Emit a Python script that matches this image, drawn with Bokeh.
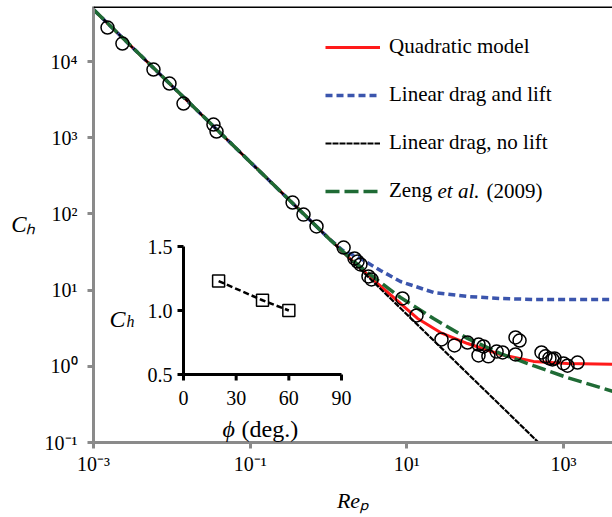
from bokeh.plotting import figure
from bokeh.models import (Range1d, LinearScale, FixedTicker, Label, Legend,
                          LegendItem, Span)
from bokeh.embed import file_html
from bokeh.resources import INLINE

# ---------------- data ----------------
re_exp = [1.51e-3, 2.34e-3, 5.83e-3, 9.34e-3, 1.41e-2, 3.40e-2, 3.72e-2, 0.348, 0.480,
          0.703, 1.56, 2.15, 2.35, 2.56, 3.24, 3.54, 8.8, 13.3, 27.7, 40.6, 59.6, 82.3,
          95.3, 82.3, 110, 140, 167, 244, 244, 275, 524, 589, 662, 724, 768, 1000,
          1125, 1510]
ch_exp = [27900, 17200, 7850, 5140, 2810, 1490, 1205, 141, 98, 68.4, 36.2, 26.0,
          23.7, 21.7, 15.1, 13.8, 7.76, 4.65, 2.25, 1.88, 2.05, 1.93, 1.82, 1.39, 1.35,
          1.56, 1.52, 1.43, 2.39, 2.18, 1.52, 1.35, 1.27, 1.23, 1.27, 1.09, 1.02, 1.12]

re_quad = [1e-3, 0.1, 1, 2, 4, 8.3, 13.7, 26.9, 59.6, 157, 414, 1125, 4230]
ch_quad = [48000, 480, 48.3, 24.4, 12.8, 6.67, 4.24, 2.77, 1.99, 1.43, 1.16, 1.09, 1.06]

re_lin = [1e-3, 0.1, 1, 1.5, 2.56, 4.61, 8.3, 21.9, 59.6, 157, 414, 4230]
ch_lin = [48000, 480, 48, 33.5, 26.0, 18.1, 12.97, 9.31, 8.25, 7.76, 7.53, 7.5]

re_nolift = [1e-3, 1, 480]
ch_nolift = [48000, 48, 0.1]

re_zeng = [1e-3, 0.1, 1, 2, 3.15, 8.3, 21.9, 59.6, 157, 414, 1125, 4230]
ch_zeng = [48000, 480, 48, 25, 17, 8.0, 4.24, 2.32, 1.47, 1.02, 0.71, 0.47]

phi_inset = [20, 45, 60]
ch_inset = [1.23, 1.08, 1.00]

x_ticks = [1e-3, 1e-1, 1e1, 1e3]
x_tick_labels = ["10⁻³", "10⁻¹", "10¹", "10³"]
y_ticks = [1e-1, 1e0, 1e1, 1e2, 1e3, 1e4]
y_tick_labels = ["10⁻¹", "10⁰", "10¹", "10²", "10³", "10⁴"]

inset_x_ticks = [0, 30, 60, 90]
inset_x_labels = ["0", "30", "60", "90"]
inset_y_ticks = [0.5, 1.0, 1.5]
inset_y_labels = ["0.5", "1.0", "1.5"]

legend_labels = ["Quadratic model", "Linear drag and lift", "Linear drag, no lift", "Zeng"]

# ---------------- layout (page pixels) ----------------
W, H = 612, 517
FL, FR, FT, FB = 93, 612, 6, 442           # frame edges on the page
PX_DEC_X, PX_DEC_Y = 78.33, 76.2           # pixels per decade
XL0 = -3.0
XL1 = XL0 + (FR - FL) / PX_DEC_X
YL0 = -1.0
YL1 = YL0 + (FB - FT) / PX_DEC_Y

# inset: phi 0 at x=183, 90 at x=341 ; C 0.5 at y=374, 1.5 at y=246
IPX0, IPX90 = 183, 341
IPY05, IPY15 = 374, 246
phi_per_px = 90.0 / (IPX90 - IPX0)
c_per_px = 1.0 / (IPY05 - IPY15)
phi_start = (FL - IPX0) * phi_per_px
phi_end = (FR - IPX0) * phi_per_px
c_start = 0.5 + (IPY05 - FB) * c_per_px
c_end = 0.5 + (IPY05 - FT) * c_per_px

SERIF = "Liberation Serif"
AXIS_GRAY = "#8a8a8a"


def dx(px):
    return 10 ** (XL0 + (px - FL) / PX_DEC_X)


def dy(py):
    return 10 ** (YL0 + (FB - py) / PX_DEC_Y)


p = figure(width=W, height=H, x_axis_type="log", y_axis_type="log",
           x_range=Range1d(10 ** XL0, 10 ** XL1), y_range=Range1d(10 ** YL0, 10 ** YL1),
           output_backend="svg", toolbar_location=None,
           min_border_left=FL, min_border_right=W - FR, min_border_top=FT,
           min_border_bottom=H - FB)
p.extra_x_ranges = {"inset": Range1d(phi_start, phi_end)}
p.extra_y_ranges = {"inset": Range1d(c_start, c_end)}
p.extra_x_scales = {"inset": LinearScale()}
p.extra_y_scales = {"inset": LinearScale()}

p.outline_line_color = None
p.grid.visible = False
p.background_fill_color = "white"
p.border_fill_color = "white"

for ax, ticks, labels in ((p.xaxis[0], x_ticks, x_tick_labels), (p.yaxis[0], y_ticks, y_tick_labels)):
    ax.ticker = FixedTicker(ticks=ticks, minor_ticks=[])
    ax.major_label_overrides = {t: l for t, l in zip(ticks, labels)}
    ax.axis_line_color = AXIS_GRAY
    ax.axis_line_width = 3
    ax.major_tick_line_color = AXIS_GRAY
    ax.major_tick_line_width = 3
    ax.major_tick_out = 6
    ax.major_tick_in = 0
    ax.minor_tick_out = 0
    ax.minor_tick_in = 0
    ax.major_label_text_font = SERIF
    ax.major_label_text_font_size = "20px"
    ax.major_label_text_color = "black"
    ax.axis_label_text_font = SERIF
    ax.axis_label_text_font_style = "italic"
    ax.axis_label_text_color = "black"
p.yaxis[0].major_label_standoff = 10
p.xaxis[0].major_label_standoff = 4
p.yaxis[0].axis_label = "Cₕ"
p.yaxis[0].axis_label_orientation = "horizontal"
p.yaxis[0].axis_label_text_font_size = "23px"
p.yaxis[0].axis_label_standoff = 6
p.xaxis[0].axis_label = "Reₚ"
p.xaxis[0].axis_label_text_font_size = "22px"
p.xaxis[0].axis_label_standoff = 10

p.add_layout(Span(location=10 ** YL1, dimension="width", line_color="black", line_width=3))

# ---------------- curves ----------------
r_quad = p.line(re_quad, ch_quad, line_color="#ff1a1a", line_width=3)
r_lin = p.line(re_lin, ch_lin, line_color="#3b55ad", line_width=3.5, line_dash="7 4")
r_nol = p.line(re_nolift, ch_nolift, line_color="black", line_width=2.2, line_dash="6 1")
r_zeng = p.line(re_zeng, ch_zeng, line_color="#1f6b35", line_width=3.5, line_dash="14 5")
p.scatter(re_exp, ch_exp, marker="circle", size=13, fill_color=None,
          line_color="black", line_width=1.5)

legend = Legend(items=[LegendItem(label=legend_labels[0], renderers=[r_quad]),
                       LegendItem(label=legend_labels[1], renderers=[r_lin]),
                       LegendItem(label=legend_labels[2], renderers=[r_nol]),
                       LegendItem(label=legend_labels[3], renderers=[r_zeng])],
                location=(325 - FL, FB - 203), padding=0, margin=0,
                glyph_width=55, glyph_height=24, label_height=24, spacing=23,
                label_standoff=9, label_text_font=SERIF, label_text_font_size="21px",
                label_text_color="black",
                background_fill_alpha=0, border_line_color=None)
p.add_layout(legend)
p.add_layout(Label(x=dx(437), y=dy(190), text="et al.", text_font=SERIF,
                   text_font_style="italic", text_font_size="21px", text_baseline="middle",
                   text_color="black"))
p.add_layout(Label(x=dx(486), y=dy(190), text="(2009)", text_font=SERIF,
                   text_font_size="21px", text_baseline="middle", text_color="black"))

# ---------------- inset ----------------
IR = dict(x_range_name="inset", y_range_name="inset")
tick_len_x = 6 * phi_per_px
tick_len_y = 6 * c_per_px
p.segment(x0=[0, 0], y0=[inset_y_ticks[0], inset_y_ticks[0]],
          x1=[0, inset_x_ticks[-1]], y1=[inset_y_ticks[-1], inset_y_ticks[0]],
          line_color="black", line_width=3, **IR)
p.segment(x0=[0] * len(inset_y_ticks), y0=inset_y_ticks,
          x1=[-tick_len_x] * len(inset_y_ticks), y1=inset_y_ticks,
          line_color="black", line_width=3, **IR)
p.segment(x0=inset_x_ticks, y0=[inset_y_ticks[0]] * len(inset_x_ticks),
          x1=inset_x_ticks, y1=[inset_y_ticks[0] - tick_len_y] * len(inset_x_ticks),
          line_color="black", line_width=3, **IR)
p.line(phi_inset, ch_inset, line_color="black", line_width=2.5, line_dash="6 3", **IR)
p.scatter(phi_inset, ch_inset, marker="square", size=12, fill_color=None,
          line_color="black", line_width=1.5, **IR)

for t, l in zip(inset_y_ticks, inset_y_labels):
    p.add_layout(Label(x=0, y=t, text=l, x_offset=-11, text_align="right",
                       text_baseline="middle", text_font=SERIF, text_font_size="20px",
                       text_color="black", **IR))
for t, l in zip(inset_x_ticks, inset_x_labels):
    p.add_layout(Label(x=t, y=inset_y_ticks[0], text=l, y_offset=-23, text_align="center",
                       text_baseline="middle", text_font=SERIF, text_font_size="20px",
                       text_color="black", **IR))


def itxt(text, px, py, size, italic=True):
    p.add_layout(Label(x=(px - IPX0) * phi_per_px, y=0.5 + (IPY05 - py) * c_per_px,
                       text=text, text_font=SERIF, text_color="black",
                       text_font_style="italic" if italic else "normal",
                       text_font_size=size, text_baseline="alphabetic", **IR))

itxt("C", 109, 318, "24px")
itxt("h", 126, 321, "16px")
itxt("ϕ", 222, 428, "24px")
itxt("(deg.)", 241, 428, "24px", italic=False)

open("out.html", "w").write(file_html(p, INLINE))
